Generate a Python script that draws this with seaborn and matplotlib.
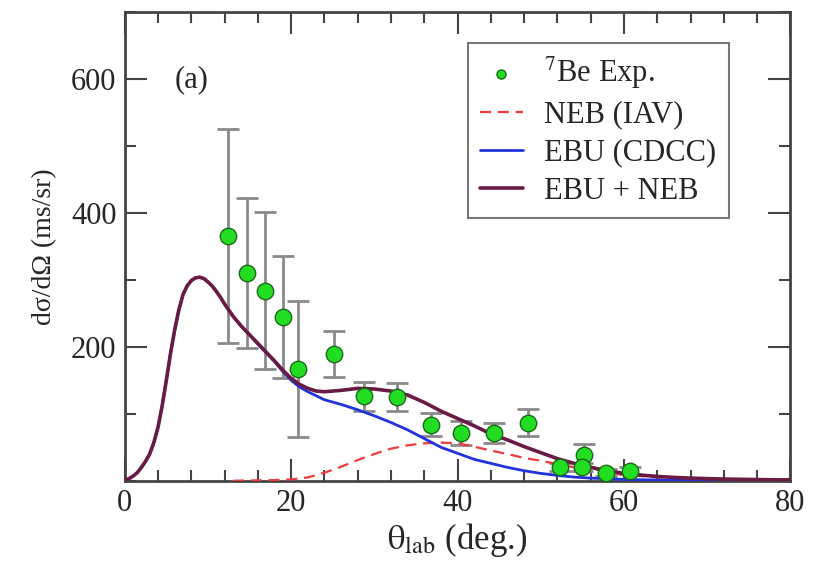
import numpy as np
import pandas as pd
import matplotlib
matplotlib.use("agg")
import matplotlib.pyplot as plt
from matplotlib.ticker import MultipleLocator
import seaborn as sns

# values
theta_exp = [12.4, 14.7, 16.9, 19.0, 20.8, 25.1, 28.8, 32.7, 36.8, 40.4,
             44.4, 48.4, 52.3, 55.2, 55.0, 57.8, 60.7]
sigma_exp = [365, 310, 284, 245, 167, 189, 126, 125, 84, 72,
             71, 87, 21, 38, 20, 12, 15]
sigma_err = [160, 112, 117, 91, 101, 34, 22, 21, 17, 18,
             15, 20, 6, 17, 6, 5, 5]

theta_tot = [0, 0.5, 1, 1.5, 2, 2.5, 3, 3.5, 4, 4.5, 5, 5.5, 6, 6.5, 7, 7.5, 8, 8.5,
             9, 9.5, 10, 10.5, 11, 11.5, 12, 13, 14, 15, 16, 17, 18, 19,
             20, 21, 22, 23, 24, 26, 28, 30, 32, 34, 36, 38, 40, 42, 44, 46, 48,
             50, 52, 54, 56, 58, 60, 62, 64, 66, 68, 70, 72, 74, 76, 78, 80]
ebu_neb = [1, 3, 7, 12, 20, 29, 40, 57, 80, 112, 150, 190, 225, 255, 278, 291, 299, 303,
           304, 302, 297, 291, 283, 274, 264, 246, 231, 218,
           205, 192, 179, 165, 153, 144, 138, 134, 133, 135, 138, 137, 134, 128,
           117, 104, 93, 82, 70, 61, 51, 42, 33, 26, 20, 15, 11, 8.5, 6.5, 5, 4,
           3.2, 2.6, 2.2, 1.8, 1.5, 1.3]
ebu_cdcc = [1, 3, 7, 12, 20, 29, 40, 57, 80, 112, 150, 190, 225, 255, 278, 291, 299, 303,
            304, 302, 297, 291, 283, 274, 264, 246, 231, 218,
            204, 191, 178, 163, 150, 140, 133, 127, 121, 114, 106, 97, 87, 76,
            63, 50, 41, 32, 26, 20, 15, 11, 8, 5.5, 4, 3, 2, 1.5, 1.2, 1, 0.8,
            0.6, 0.5, 0.4, 0.3, 0.3, 0.2]

theta_neb = [13, 14, 16, 18, 20, 22, 24, 26, 28, 30, 32, 34, 36, 38, 40, 42, 44,
             46, 48, 50, 52, 54, 56, 58, 60, 62, 64, 66, 68, 70, 72, 74, 76, 78, 80]
neb_iav = [0, 0.3, 0.6, 1, 2, 5, 12, 21, 31, 40, 48, 53, 56, 57, 56, 51, 45,
           40, 34, 30, 25, 20, 16, 12, 9, 7, 5, 4, 3, 2.4, 2, 1.7, 1.4, 1.2, 1]

sns.set_style("ticks")
plt.rcParams["font.family"] = ["Liberation Serif", "DejaVu Serif"]
plt.rcParams["mathtext.fontset"] = "stix"

fig, ax = plt.subplots(figsize=(8.26, 5.71), dpi=100)
fig.subplots_adjust(left=0.151, right=0.957, bottom=0.158, top=0.979)

c_red = "#ee3b3b"
c_blue = "#2233dd"
c_purple = "#6a1b45"

ax.errorbar(theta_exp, sigma_exp, yerr=sigma_err, fmt="none", ecolor="#8a8a8a",
            elinewidth=2, capsize=8, capthick=2, zorder=2)
sns.lineplot(x=theta_neb, y=neb_iav, ax=ax, color=c_red, lw=1.6,
             linestyle=(0, (5, 3)), label="NEB (IAV)", zorder=3)
sns.lineplot(x=theta_tot, y=ebu_cdcc, ax=ax, color=c_blue, lw=2,
             label="EBU (CDCC)", zorder=3)
sns.lineplot(x=theta_tot, y=ebu_neb, ax=ax, color=c_purple, lw=2.6,
             label="EBU + NEB", zorder=4)
sns.scatterplot(x=theta_exp, y=sigma_exp, ax=ax, color="#22dd22", edgecolor="#1a6a1a",
                linewidth=1, s=140, zorder=5, label=r"$^{7}$Be Exp.")

ax.set_xlim(0, 80)
ax.set_ylim(0, 700)
ax.xaxis.set_major_locator(MultipleLocator(20))
ax.xaxis.set_minor_locator(MultipleLocator(4))
ax.yaxis.set_major_locator(MultipleLocator(200))
ax.yaxis.set_minor_locator(MultipleLocator(100))
ax.set_yticks([200, 400, 600])
ax.tick_params(which="both", direction="in", top=True, right=True,
               color="#444444", width=1.5, labelsize=22, pad=6)
ax.tick_params(which="major", length=16)
ax.tick_params(which="minor", length=8)
for sp in ax.spines.values():
    sp.set_color("#444444")
    sp.set_linewidth(2)

ax.set_xlabel(r"$\mathrm{θ_{lab}}$ (deg.)", fontsize=25, labelpad=2)
ax.set_ylabel("dσ/dΩ (ms/sr)", fontsize=20, labelpad=10)
ax.text(0.075, 0.855, "(a)", transform=ax.transAxes, fontsize=22, va="center")

handles, labels = ax.get_legend_handles_labels()
order = [3, 0, 1, 2]
leg = ax.legend([handles[i] for i in order], [labels[i] for i in order],
                loc="upper right", bbox_to_anchor=(0.907, 0.934), borderaxespad=0,
                fontsize=22, frameon=True, fancybox=False, edgecolor="#555555",
                handlelength=1.4, labelspacing=0.3, borderpad=0.4,
                handletextpad=0.7, markerscale=0.55)
leg.get_frame().set_linewidth(1.5)

fig.savefig("out.png", dpi=100)
